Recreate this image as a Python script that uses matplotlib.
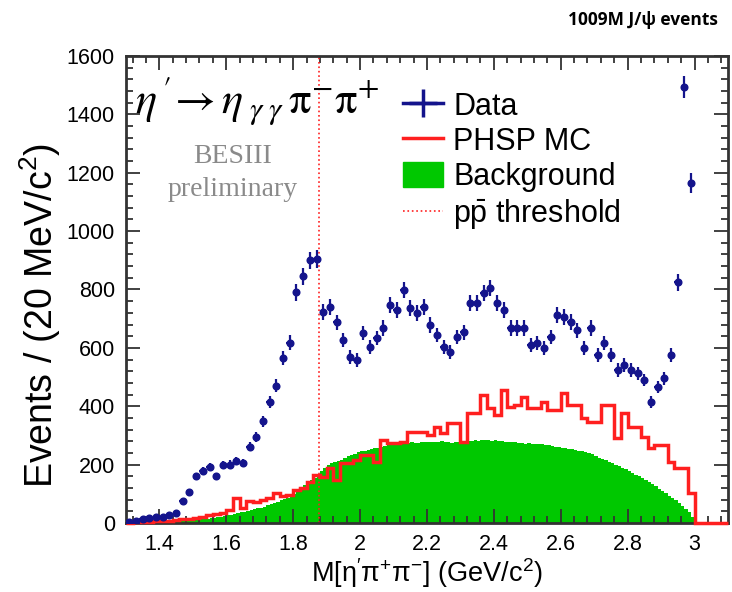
import numpy as np
import matplotlib.pyplot as plt
from matplotlib.lines import Line2D
from matplotlib.patches import Patch
from matplotlib.ticker import MultipleLocator

plt.rcParams['font.family'] = ['Liberation Sans', 'DejaVu Sans']
plt.rcParams['mathtext.fontset'] = 'custom'
plt.rcParams['mathtext.rm'] = 'Liberation Sans'
plt.rcParams['mathtext.it'] = 'Liberation Sans:italic'

# data points, 20 MeV bins, centres 1.31 ... 2.99
data_x = np.round(np.arange(1.31, 3.0, 0.02), 2)
data_y = [5, 8, 14, 18, 22, 20, 28, 35, 75, 105,
          160, 178, 192, 160, 198, 200, 212, 205, 262, 295,
          348, 415, 470, 565, 618, 790, 845, 900, 905, 722,
          740, 688, 627, 569, 558, 651, 603, 634, 668, 747,
          730, 798, 736, 719, 740, 678, 644, 603, 586, 637,
          654, 753, 753, 788, 805, 753, 730, 668, 668, 668,
          610, 616, 600, 637, 712, 706, 689, 661, 600, 668,
          575, 616, 575, 524, 541, 524, 513, 490, 414, 466,
          496, 575, 825, 1494, 1164]

# PHSP MC, 20 MeV bins from 1.30 to 3.10
mc_edges = np.linspace(1.30, 3.10, 91)
mc_y = [0, 2, 3, 5, 6, 7, 8, 10, 12, 13,
        18, 22, 28, 30, 34, 46, 86, 51, 74, 72,
        80, 86, 103, 91, 97, 114, 120, 140, 165, 159,
        187, 147, 204, 204, 216, 233, 233, 210, 284, 273,
        273, 278, 313, 313, 313, 301, 330, 307, 341, 341,
        278, 376, 376, 438, 393, 370, 455, 398, 404, 432,
        393, 393, 415, 387, 387, 444, 404, 404, 358, 347,
        347, 404, 404, 290, 376, 330, 330, 296, 256, 267,
        267, 210, 187, 187, 102, 0, 0, 0, 0, 0]

# background, 10 MeV bins from 1.30 to 3.00
bkg_edges = np.linspace(1.30, 3.00, 171)
bkg_y = [0, 0, 1, 1, 1, 2, 2, 2, 3, 3,
         3, 4, 4, 5, 5, 6, 7, 7, 8, 9,
         10, 11, 12, 13, 15, 16, 18, 20, 22, 25,
         27, 29, 31, 33, 36, 38, 41, 44, 47, 50,
         53, 56, 60, 64, 68, 72, 77, 81, 86, 92,
         100, 106, 118, 130, 138, 146, 155, 165, 178, 190,
         198, 205, 208, 212, 216, 222, 228, 233, 238, 242,
         245, 248, 250, 253, 256, 258, 262, 264, 266, 268,
         276, 270, 272, 271, 274, 276, 273, 275, 277, 276,
         278, 276, 279, 277, 280, 276, 278, 275, 279, 277,
         280, 279, 282, 281, 284, 282, 285, 283, 284, 282,
         283, 280, 281, 279, 278, 276, 277, 274, 273, 272,
         273, 271, 270, 269, 270, 267, 266, 264, 262, 260,
         258, 256, 254, 252, 250, 248, 246, 243, 240, 236,
         228, 224, 220, 215, 210, 205, 200, 195, 190, 184,
         178, 172, 166, 160, 154, 147, 140, 133, 126, 118,
         110, 102, 94, 86, 78, 68, 58, 48, 36, 20]

threshold = 2 * 0.938272

blue = '#14148c'
red = '#ff1f1f'
green = '#00c800'

fig = plt.figure(figsize=(7.32, 5.92), dpi=100)
ax = fig.add_axes([0.172, 0.1166, 0.8225, 0.7888])

ax.stairs(bkg_y, bkg_edges, fill=True, color=green, lw=0)
ax.stairs(mc_y, mc_edges, color=red, lw=2.5, clip_on=False, zorder=4)
ax.axvline(threshold, color=red, ls=':', lw=1.2)
ax.errorbar(data_x, data_y, yerr=np.sqrt(data_y), xerr=0.01, fmt='o',
            color=blue, ms=4.8, elinewidth=1.6, capsize=0, zorder=5)

ax.set_xlim(1.3, 3.1)
ax.set_ylim(0, 1600)
ax.xaxis.set_major_locator(MultipleLocator(0.2))
ax.xaxis.set_minor_locator(MultipleLocator(0.04))
ax.yaxis.set_major_locator(MultipleLocator(200))
ax.yaxis.set_minor_locator(MultipleLocator(40))
ax.set_xticks(np.arange(1.4, 3.01, 0.2))
ax.set_xticklabels(['1.4', '1.6', '1.8', '2', '2.2', '2.4', '2.6', '2.8', '3'])
ax.tick_params(which='both', direction='in', top=True, right=True,
               labelsize=15.5, width=1.3, color='#333333')
ax.tick_params(which='major', length=10, pad=8)
ax.tick_params(which='minor', length=5)
for s in ax.spines.values():
    s.set_linewidth(2)
    s.set_color('#333333')

ax.set_xlabel(r"M[$\mathrm{\eta'\pi^{+}\pi^{-}}$] (GeV/c$^{2}$)", fontsize=19.5, labelpad=1)
ax.set_ylabel(r"Events / (20 MeV/c$^{2}$)", fontsize=27)
ax.yaxis.set_label_coords(-0.105, 0.445)

handles = [
    Line2D([], [], color=blue, lw=2.5, marker='+', ms=20, mew=2.5),
    Line2D([], [], color=red, lw=2.5),
    Patch(facecolor=green, edgecolor=green),
    Line2D([], [], color=red, lw=1.2, ls=':'),
]
labels = ['Data', 'PHSP MC', 'Background', r'$\mathrm{p\bar{p}}$ threshold']
ax.legend(handles, labels, loc='upper left', bbox_to_anchor=(0.44, 0.95),
          frameon=False, fontsize=22, handlelength=1.3, handleheight=0.85,
          handletextpad=0.35, labelspacing=0.17, borderaxespad=0)

ax.text(0.015, 0.905,
        r"$\eta\,\mathrm{'}\!\rightarrow\eta_{\;\gamma\;\gamma}\,\mathrm{\pi^{-}\pi^{+}}$",
        transform=ax.transAxes, fontsize=32, math_fontfamily='stix', va='center')
ax.text(0.178, 0.785, 'BESIII', transform=ax.transAxes, fontsize=20,
        family='Liberation Serif', color='#8a8a8a', ha='center', va='center')
ax.text(0.178, 0.714, 'preliminary', transform=ax.transAxes, fontsize=20,
        family='Liberation Serif', color='#8a8a8a', ha='center', va='center')

fig.text(0.981, 0.966, '1009M J/\u03c8 events', ha='right', va='center',
         fontsize=12.5, fontweight='bold', family=['Open Sans', 'DejaVu Sans'])

fig.savefig('out.png', dpi=100)
